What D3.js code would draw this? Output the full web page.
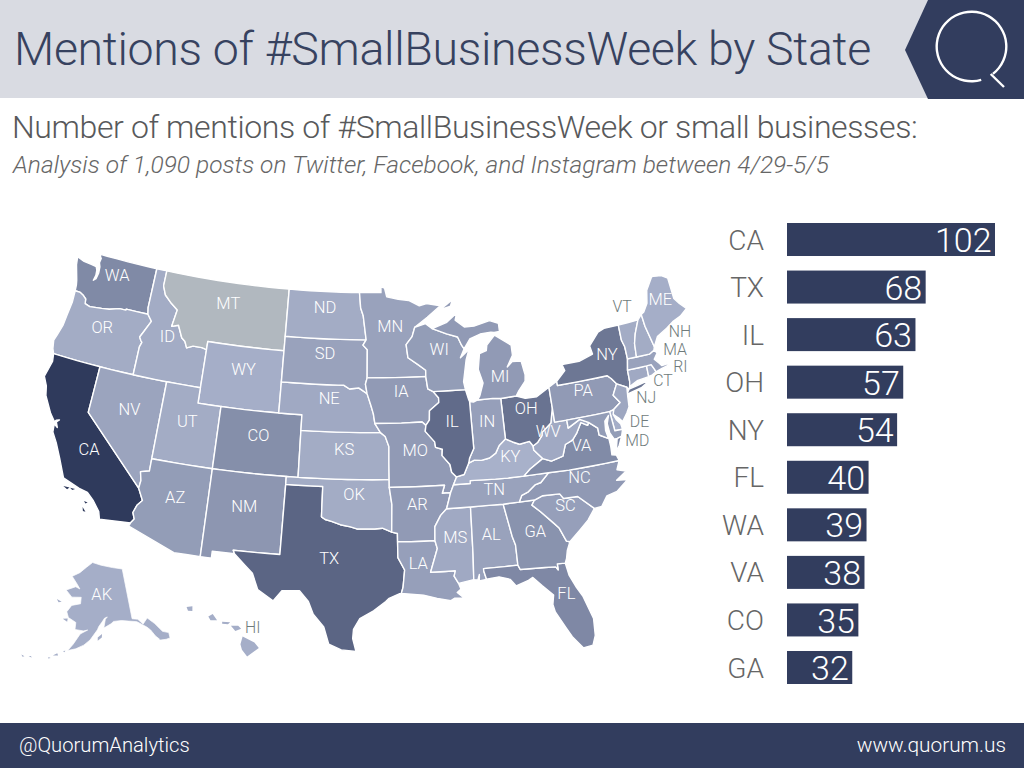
<!DOCTYPE html>
<html>
<head>
<meta charset="utf-8">
<script src="https://cdn.jsdelivr.net/npm/d3@7"></script>
<style>
  html, body { margin: 0; padding: 0; background: #fff; }
  svg { display: block; }
  text { font-family: Roboto, "Liberation Sans", sans-serif; font-weight: 300; }
</style>
</head>
<body>
<svg id="chart" width="1024" height="768"></svg>
<script>
// bar chart data
const barStates = ["CA", "TX", "IL", "OH", "NY", "FL", "WA", "VA", "CO", "GA"];
const barValues = [102, 68, 63, 57, 54, 40, 39, 38, 35, 32];

// map shade per state, values outside the top ten are estimated from the colours
const mentions = {
  CA: 102, TX: 68, IL: 63, OH: 57, NY: 54, FL: 40, WA: 39, VA: 38, CO: 35, GA: 32,
  AK: 10, AL: 20, AR: 26, AZ: 24, CT: 14, DE: 10, HI: 10, IA: 26, ID: 12, IN: 22,
  KS: 12, KY: 8, LA: 22, MA: 20, MD: 24, ME: 10, MI: 26, MN: 20, MO: 26, MS: 14,
  NC: 27, ND: 12, NE: 14, NH: 12, NJ: 16, NM: 29, NV: 18, OK: 12, OR: 12, PA: 26,
  RI: 10, SC: 22, SD: 20, TN: 20, UT: 12, VT: 12, WI: 24, WV: 14, WY: 10
};
const noDataStates = ["MT"];

// state labels: lon, lat
const labelSpots = {
  WA: [-120.6, 47.97], OR: [-120.7, 44.48], CA: [-119.2, 36.73], NV: [-116.7, 39.83], ID: [-114.76, 44.87],
  MT: [-109.7, 47.63], WY: [-107.5, 43.55], UT: [-111.7, 39.78], AZ: [-111.65, 34.83], CO: [-105.6, 39.49],
  NM: [-106.15, 34.86], ND: [-100.5, 47.97], SD: [-100.3, 45.01], NE: [-99.76, 42.13], KS: [-98.34, 38.95],
  OK: [-97.45, 36.06], TX: [-99.28, 31.97], MN: [-94.3, 46.81], IA: [-93.45, 42.61], MO: [-92.4, 38.85],
  AR: [-92.4, 35.37], LA: [-92.5, 31.64], WI: [-89.87, 45.2], IL: [-89.16, 40.58], IN: [-86.18, 40.39],
  MI: [-84.63, 43.1], OH: [-82.74, 40.85], KY: [-84.58, 37.98], TN: [-86.18, 35.98], MS: [-89.56, 33.18],
  AL: [-86.77, 33.18], GA: [-83.35, 33.05], FL: [-81.71, 28.78], SC: [-80.74, 34.36], NC: [-79.26, 35.99],
  VA: [-78.65, 37.99], WV: [-81.17, 39.24], PA: [-77.63, 41.44], NY: [-74.94, 43.34], ME: [-69.0, 45.91],
  VT: [-72.6, 46.12], NH: [-68.13, 43.57], MA: [-69.0, 42.55], RI: [-68.98, 41.41], CT: [-70.75, 40.84],
  NJ: [-72.5, 40.06], DE: [-73.53, 38.68], MD: [-74.07, 37.55], AK: [-152.1, 65.5], HI: [-155.2, 20.87]
};
const outsideLabels = ["VT", "NH", "MA", "RI", "CT", "NJ", "DE", "MD", "HI"];

// borders, "west-longitude latitude" pairs, shared by the two states either side
const borders = {
  wa_north: "117.04 49,118 49,119 49,120 49,121 49,122 49,122.76 49",
  wa_coast: "122.76 49,122.5 48.75,122.55 48.45,122.4 48.2,122.35 47.8,122.45 47.4,122.65 47.25,122.55 47.6,122.6 47.95,122.75 48.15,123.2 48.2,124 48.25,124.72 48.42,124.6 47.9,124.15 46.95,124.05 46.65,124 46.27",
  wa_or: "124 46.27,123.5 46.26,123.2 46.15,122.85 45.95,122.78 45.65,122.3 45.55,121.2 45.65,120.5 45.72,119.6 45.92,119 45.93,118.98 46,118 46,117 46,116.92 46",
  wa_id: "116.92 46,117.04 46.42,117.04 47,117.04 48,117.04 49",
  or_coast: "124 46.27,123.95 45.5,124.07 44.6,124.15 43.9,124.4 43.2,124.55 42.84,124.4 42.3,124.21 42",
  or_ca: "124.21 42,123 42,122 42,121 42,120 42",
  or_nv: "120 42,119 42,118 42,117.03 42",
  or_id: "116.92 46,116.47 45.6,116.85 45,117.2 44.45,117.03 44.25,116.9 44.15,117.03 43.83,117.03 43,117.03 42",
  id_nv: "117.03 42,116 42,115 42,114.04 42",
  id_ut: "114.04 42,113 42,112 42,111.05 42",
  id_wy: "111.05 42,111.05 43,111.05 44.47",
  id_mt: "111.05 44.47,111.5 44.55,112.3 44.55,112.85 44.37,113.1 44.75,113.45 44.95,113.95 45.7,114.55 45.55,114.33 46.65,115 47,115.7 47.45,116.05 48,116.05 49",
  id_north: "116.05 49,117.04 49",
  mt_north: "104.05 49,105 49,106 49,107 49,108 49,109 49,110 49,111 49,112 49,113 49,114 49,115 49,116.05 49",
  mt_wy: "111.05 44.47,111.05 45,110 45,109 45,108 45,107 45,106 45,105 45,104.05 45",
  mt_nd: "104.05 49,104.05 47,104.05 45.94",
  mt_sd: "104.05 45.94,104.05 45",
  wy_sd: "104.05 45,104.05 43",
  wy_ne: "104.05 43,104.05 41",
  wy_co: "104.05 41,105 41,106 41,107 41,108 41,109.05 41",
  wy_ut: "109.05 41,110 41,111.05 41,111.05 42",
  ca_coast: "124.21 42,124.1 41.5,124.4 40.45,124 39.9,123.8 39.3,123 38.3,122.5 37.85,122.4 37.98,122.15 38.05,122.35 37.87,122.15 37.55,122.47 37.72,122.4 37.2,121.9 36.6,121.3 35.7,120.6 34.55,119.2 34.15,118.5 34.03,117.9 33.6,117.3 33,117.12 32.53",
  ca_mex: "117.12 32.53,116 32.62,114.72 32.72",
  ca_az: "114.72 32.72,114.5 33,114.7 33.4,114.5 33.9,114.15 34.27,114.63 35",
  ca_nv: "114.63 35,120 39,120 40,120 41,120 42",
  nv_az: "114.63 35,114.57 35.5,114.74 36.05,114.05 36.2,114.05 37",
  nv_ut: "114.05 37,114.05 39,114.04 42",
  ut_az: "114.05 37,113 37,112 37,111 37,110 37,109.05 37",
  ut_co: "109.05 37,109.05 41",
  az_mex: "114.72 32.72,114.81 32.5,111.07 31.33,110 31.33,109.05 31.33",
  az_nm: "109.05 31.33,109.05 33,109.05 35,109.05 37",
  co_nm: "109.05 37,108 37,107 37,106 37,105 37,104 37,103 37",
  co_ok: "103 37,102.04 37",
  co_ks: "102.04 37,102.05 40",
  co_ne: "102.05 40,102.05 41,103 41,104.05 41",
  nm_ok: "103 37,103 36.5",
  nm_tx: "103 36.5,103.05 32,104 32,105 32,106.62 32,106.5 31.78",
  nm_mex: "106.5 31.78,108.2 31.78,108.2 31.33,109.05 31.33",
  tx_mex: "106.5 31.78,105.6 31.1,105 30.65,104.5 29.65,103.3 29,102.7 29.7,101.4 29.77,100.7 29.1,100.3 28.3,99.5 27.5,99.1 26.4,98.2 26.05,97.15 25.96",
  tx_coast: "97.15 25.96,97.4 26.8,97.35 27.4,96.9 28.1,95.9 28.6,95 29.2,94.75 29.4,94 29.68,93.84 29.7",
  tx_la: "93.84 29.7,93.7 30.1,93.55 31.2,94.04 32,94.04 33.02",
  tx_ar: "94.04 33.02,94.04 33.55,94.48 33.64",
  tx_ok: "94.48 33.64,95.2 33.9,95.8 33.85,96.6 33.85,97.2 33.85,97.7 33.98,98.5 34.1,99.2 34.3,99.7 34.4,100 34.56,100 36.5,101 36.5,102 36.5,103 36.5",
  nd_north: "97.23 49,98 49,99 49,100 49,101 49,102 49,103 49,104.05 49",
  nd_mn: "97.23 49,97.1 48,96.85 47.5,96.56 45.94",
  nd_sd: "104.05 45.94,103 45.94,102 45.94,101 45.94,100 45.94,99 45.94,98 45.94,96.56 45.94",
  mn_sd: "96.56 45.94,96.85 45.6,96.45 45.3,96.45 43.5",
  sd_ne: "104.05 43,103 43,102 43,101 43,100 43,99 43,98.5 43,98 42.77,97.2 42.85,96.45 42.49",
  sd_ia: "96.45 42.49,96.6 43.1,96.45 43.5",
  mn_ia: "96.45 43.5,95 43.5,94 43.5,93 43.5,92 43.5,91.22 43.5",
  ne_ks: "102.05 40,101 40,100 40,99 40,98 40,97 40,96 40,95.3 40",
  ne_ia: "96.45 42.49,96.1 41.7,95.9 41.2,95.77 40.58",
  ne_mo: "95.77 40.58,95.3 40",
  ia_mo: "95.77 40.58,94.5 40.58,93.5 40.58,92.5 40.6,91.73 40.61,91.42 40.38",
  ks_ok: "102.04 37,101 37,100 37,99 37,98 37,97 37,96 37,95 37,94.62 37",
  ks_mo: "95.3 40,94.9 39.75,94.6 39.1,94.62 38,94.62 37",
  ok_mo: "94.62 37,94.62 36.5",
  ok_ar: "94.62 36.5,94.43 35.4,94.48 33.64",
  mo_ar: "94.62 36.5,93 36.5,92 36.5,90.15 36.5,90.37 36,89.7 36",
  mn_wi: "92.02 46.7,92.3 46.1,92.88 45.6,92.75 44.75,91.9 44.3,91.2 43.9,91.22 43.5",
  ia_wi: "91.22 43.5,91.1 42.7,90.64 42.51",
  ia_il: "90.64 42.51,90.2 42.1,90.2 41.8,91.05 41.3,91.1 40.7,91.42 40.38",
  mo_il: "91.42 40.38,91.5 40,90.75 39.3,90.7 38.95,90.15 38.8,90.2 38.4,89.6 37.8,89.5 37.3,89.13 36.98",
  mo_ky: "89.13 36.98,89.42 36.5",
  mo_tn: "89.42 36.5,89.7 36",
  ar_tn: "89.7 36,90.1 35",
  ar_ms: "90.1 35,90.6 34.6,91.1 33.9,91.15 33",
  ar_la: "91.15 33,92 33,93 33,94.04 33.02",
  la_ms: "91.15 33,91 32.5,91.6 31,90.5 31,89.73 31,89.85 30.67,89.55 30.18",
  la_coast: "89.55 30.18,89.4 29.8,89.7 29.6,89.2 29.2,89.9 29.25,90.2 29.1,91.2 29.3,92.2 29.55,93.84 29.7",
  ms_coast: "89.55 30.18,88.4 30.35",
  ms_al: "88.4 30.35,88.3 32,88.2 35",
  ms_tn: "90.1 35,89 35,88.2 35",
  al_tn: "88.2 35,87 35,85.6 34.98",
  al_ga: "85.6 34.98,85.18 32.87,85 32.3,85 31",
  al_fl: "85 31,86 31,87.6 31,87.6 30.85,87.45 30.3",
  al_coast: "87.45 30.3,88 30.23,87.95 30.65,88.1 30.3,88.4 30.35",
  fl_ga: "85 31,84.86 30.7,83 30.63,82.2 30.57,82.05 30.36,82.05 30.75,81.45 30.72",
  fl_coast: "81.45 30.72,81.3 29.9,80.9 29.05,80.55 28.45,80.05 26.9,80.13 25.8,80.4 25.2,81.1 25.13,81.75 25.95,82.1 26.6,82.7 27.7,82.8 28.2,82.65 28.8,83.4 29.5,84 30.1,84.35 29.95,85.3 29.68,85.7 30.15,86.5 30.38,87.45 30.3",
  ga_sc: "83.1 35,83.35 34.7,82.75 34.2,81.9 33.4,81.5 33,81.1 32.1,80.85 32.03",
  ga_nc: "84.32 34.99,83.1 35",
  ga_tn: "85.6 34.98,84.32 34.99",
  ga_coast: "80.85 32.03,81.15 31.5,81.3 31,81.45 30.72",
  sc_nc: "83.1 35,82.4 35.2,81.05 35.15,80.8 34.82,79.67 34.8,78.55 33.86",
  sc_coast: "78.55 33.86,79.2 33.2,79.9 32.7,80.85 32.03",
  nc_coast: "78.55 33.86,77.95 33.9,77.4 34.5,76.55 34.65,75.53 35.25,76.4 35.35,75.5 35.8,76.2 36,75.87 36.55",
  nc_tn: "84.32 34.99,84.05 35.4,83.5 35.57,82.9 35.95,82.4 36.05,81.68 36.59",
  nc_va: "81.68 36.59,80 36.55,79 36.55,78 36.55,77 36.55,75.87 36.55",
  tn_va: "83.68 36.6,82.5 36.6,81.68 36.59",
  tn_ky: "89.42 36.5,88.07 36.5,88.05 36.68,87 36.65,86 36.62,85 36.6,83.68 36.6",
  ky_va: "83.68 36.6,83.1 37,81.97 37.54",
  ky_wv: "81.97 37.54,82.6 38.17,82.6 38.42",
  ky_oh: "82.6 38.42,82.85 38.75,83.7 38.65,84.25 38.85,84.82 39.1",
  ky_in: "84.82 39.1,85.4 38.73,85.75 38.27,86.3 38,87 37.9,87.6 37.95,88.05 37.8",
  ky_il: "88.05 37.8,88.5 37.1,89.13 36.98",
  il_in: "88.05 37.8,87.95 38.1,87.53 38.7,87.53 39.35,87.53 41.71",
  il_wi: "90.64 42.51,89 42.5,87.8 42.49",
  il_coast: "87.8 42.49,87.6 41.85,87.53 41.71",
  in_coast: "87.53 41.71,87.2 41.65,86.82 41.76",
  in_mi: "86.82 41.76,85.5 41.76,84.81 41.7",
  in_oh: "84.81 41.7,84.82 39.1",
  mi_oh: "84.81 41.7,83.45 41.73",
  oh_coast: "83.45 41.73,82.7 41.5,81.7 41.5,80.52 41.98",
  oh_pa: "80.52 41.98,80.52 40.64",
  oh_wv: "80.52 40.64,80.85 39.7,81.7 39.2,81.75 39,82.2 38.6,82.6 38.42",
  pa_wv: "80.52 40.64,80.52 39.72,79.48 39.72",
  pa_md: "79.48 39.72,78 39.72,77 39.72,75.79 39.72",
  pa_de: "75.79 39.72,75.42 39.8",
  pa_nj: "75.42 39.8,74.75 40.15,75.2 40.7,74.7 41.36",
  pa_ny: "74.7 41.36,75.05 41.77,75.35 42,76.5 42,78 42,79.76 42,79.76 42.27",
  pa_shore: "79.76 42.27,80.52 41.98",
  wv_md: "79.48 39.72,79.48 39.2,78.4 39.62,77.72 39.32",
  va_wv: "81.97 37.54,81.3 37.3,80.3 37.5,79.95 38.2,79.3 38.4,78.87 38.77,78.35 39.4,77.83 39.15,77.72 39.32",
  va_coast: "75.87 36.55,76 36.92,76.35 37,76.3 37.55,76.32 38.05",
  md_va: "76.32 38.05,77.05 38.4,77.05 38.85,77.72 39.32",
  md_bay: "75.05 38.45,75.25 38.03,75.65 37.95,75.9 37.95,76.15 38.4,76.2 39,75.95 39.5,76.35 39.2,76.45 38.6,76.35 38.1,76.32 38.05",
  de_md: "75.79 39.72,75.7 38.46",
  de_south: "75.7 38.46,75.05 38.45",
  de_coast: "75.05 38.45,75.1 38.8,75.4 39.15,75.55 39.5",
  de_nj: "75.42 39.8,75.55 39.5",
  nj_coast: "73.9 41,74 40.45,74.1 39.75,74.4 39.4,74.9 38.93,75.15 39.2,75.55 39.5",
  ny_nj: "74.7 41.36,73.9 41",
  ny_city: "73.9 41,73.8 40.8,73.65 41",
  ny_north: "73.35 45,74.7 45",
  ny_shore: "74.7 45,75.3 44.85,76.3 44.1,76.2 43.55,77.5 43.27,79.05 43.27,78.9 42.85,79.76 42.27",
  vt_ny: "73.35 45,73.4 44,73.25 43.55,73.27 42.75",
  ma_ny: "73.27 42.75,73.5 42.05",
  ct_ny: "73.5 42.05,73.55 41.3,73.65 41",
  ct_ma: "73.5 42.05,72.5 42.03,71.8 42.02",
  ct_ri: "71.8 42.02,71.85 41.32",
  ct_coast: "71.85 41.32,72.9 41.25,73.65 41",
  ma_ri: "71.8 42.02,71.38 42.02,71.2 41.67,71.13 41.5",
  ri_coast: "71.13 41.5,71.5 41.37,71.85 41.32",
  ma_vt: "73.27 42.75,72.46 42.73",
  ma_nh: "72.46 42.73,71.3 42.7,70.82 42.87",
  ma_coast: "70.82 42.87,70.6 42.65,71 42.3,70.65 41.95,70.5 41.78,70 41.8,70.05 42.05,69.95 41.7,70.6 41.6,71.13 41.5",
  vt_nh: "72.46 42.73,72.33 43.6,72.05 44.2,71.5 45.01",
  vt_north: "71.5 45.01,72.5 45,73.35 45",
  nh_coast: "70.82 42.87,70.7 43.07",
  nh_me: "70.7 43.07,71.03 44.5,71.08 45.3",
  nh_north: "71.08 45.3,71.5 45.01",
  me_coast: "70.7 43.07,70.2 43.65,69.2 44,68.5 44.3,67.7 44.5,66.97 44.85",
  me_north: "66.97 44.85,67.45 45.3,67.8 45.7,67.79 47.07,68.3 47.35,69.05 47.45,69.22 47.45,70 46.7,70.3 45.9,70.8 45.4,71.08 45.3",
  mn_north: "89.5 48,90.8 48.2,91.5 48.07,92.5 48.45,93.5 48.55,94.6 48.72,94.8 49.3,95.15 49.38,95.15 49,96 49,97.23 49",
  mn_coast: "92.02 46.7,90.8 47.3,89.5 48",
  wi_sup: "92.02 46.7,91 46.9,90.4 46.55",
  wi_mi: "90.4 46.55,89.1 46.15,88.1 45.9,87.8 45.35,87.6 45.1",
  wi_lake: "87.6 45.1,88 44.55,87.4 44.9,87.05 45.25,87.5 44.4,87.9 43,87.8 42.49",
  mi_lp_shore: "83.45 41.73,83.15 42.05,82.5 42.6,82.42 43,82.6 43.9,83.4 43.95,83.9 43.65,83.3 44.35,83.3 45,84.7 45.78,85.5 45.2,85.6 44.85,86.25 44.7,86.5 43.7,86.2 42.8,86.6 42,86.82 41.76",
  mi_up_shore: "87.6 45.1,87 45.7,86 45.95,85 46,84.7 45.95,84.2 45.97,84.2 46.5,85 46.75,86.5 46.5,87.4 46.5,88.2 47,88 47.45,89 46.9,90.4 46.55"
};

// extra land that is not bounded by a neighbour
const islands = {
  NY: "74 40.6,73.8 40.6,72.7 40.75,71.9 41.05,72.4 41.03,73 40.95,73.75 40.85",
  VA: "75.25 38.03,75.65 37.95,75.95 37.15,75.6 37.5",
  AK: "141 69.65,141 60.3,139 60,137.5 58.9,135.5 59.8,133.5 58.4,131.8 56.6,130 56,130.2 55,131.5 55,133.3 55.2,134.5 56.2,135.5 57.5,136.5 58.2,139.5 59.6,142.5 60,145 60.3,148 60.3,149 59.9,151.7 59.2,151 60.8,150.2 61.2,151.3 61,152.3 60.3,153.5 59.5,154 58.9,156.5 57,158.5 56,161 55.2,163.5 54.7,162 56,160 58,157.5 58.8,159 58.6,162 58.7,162 60,165 60.7,166 61.7,164.5 63,161 63.5,161 64.7,165 64.5,168 65.6,164 66.5,162 66.2,163.5 67,166.5 68.3,163 69.2,160 70.3,156.7 71.3,152 70.8,146 70.2"
};
// tiny islands, drawn without the white outline or they would vanish
const specks = {
  AK: ["153.9 57.5,152.4 58.1,152.5 57.5,153.9 56.9", "134.8 58,133.9 57,134.8 57", "133.6 56.3,132.5 56,132.5 55.3,133.6 55.3",
       "167 60.3,165.2 60.5,165.2 59.9", "171 63.6,168.8 63.3,170 63.1", "164.9 54.5,164.2 54.6,164.5 54.3", "166.6 53.9,166.2 53.5,167.8 53.3",
       "169 52.9,168.3 52.8,169 52.6", "174.2 52.2,173.8 52,174.8 52", "177 51.9,176 51.8,176.5 51.6"],
  HI: ["155.9 20.25,155.1 19.85,154.8 19.5,155.6 18.95,155.95 19.4,156.05 19.75", "156.7 20.95,156.2 20.95,156 20.75,156.4 20.6",
       "157.3 21.2,156.75 21.17,156.9 21.05,157.3 21.08", "158.25 21.55,157.95 21.7,157.65 21.3,158.1 21.3", "159.75 22.15,159.35 22.2,159.35 21.9,159.65 21.9"],
  CA: ["120.45 34.05,119.95 34.05,120.1 33.9", "119.9 34.05,119.5 34.05,119.7 33.95", "118.6 33.45,118.3 33.4,118.45 33.3", "118.6 33.05,118.3 32.8,118.5 32.8"],
  MI: ["89.2 47.85,88.45 48.2,88.6 47.95"]
};

const stateRings = {
  WA: "wa_north wa_coast wa_or wa_id",
  OR: "or_coast or_ca or_nv -or_id -wa_or",
  CA: "ca_coast ca_mex ca_az ca_nv -or_ca",
  NV: "or_nv id_nv -nv_ut -nv_az ca_nv",
  ID: "id_north -wa_id or_id id_nv id_ut id_wy id_mt",
  MT: "-id_mt mt_wy -mt_sd -mt_nd mt_north",
  WY: "-id_wy -wy_ut -wy_co -wy_ne -wy_sd -mt_wy",
  UT: "-id_ut -nv_ut ut_az ut_co wy_ut",
  AZ: "-ut_az -nv_az -ca_az az_mex az_nm",
  CO: "-ut_co co_nm co_ok co_ks co_ne wy_co",
  NM: "-az_nm -nm_mex -nm_tx -nm_ok -co_nm",
  TX: "nm_tx tx_mex tx_coast tx_la tx_ar tx_ok",
  OK: "nm_ok -tx_ok -ok_ar -ok_mo -ks_ok -co_ok",
  KS: "ks_ok -ks_mo -ne_ks -co_ks",
  NE: "-co_ne ne_ks -ne_mo -ne_ia -sd_ne wy_ne",
  SD: "mt_sd wy_sd sd_ne sd_ia -mn_sd -nd_sd",
  ND: "mt_nd nd_sd -nd_mn nd_north",
  MN: "nd_mn mn_sd mn_ia -mn_wi mn_coast mn_north",
  IA: "-sd_ia ne_ia ia_mo -ia_il -ia_wi -mn_ia",
  MO: "ne_mo ks_mo ok_mo mo_ar -mo_tn -mo_ky -mo_il -ia_mo",
  AR: "-mo_ar ok_ar -tx_ar -ar_la -ar_ms -ar_tn",
  LA: "ar_la -tx_la -la_coast -la_ms",
  MS: "ar_ms la_ms ms_coast ms_al -ms_tn",
  AL: "-ms_al -al_coast -al_fl -al_ga -al_tn",
  FL: "al_fl -fl_coast -fl_ga",
  GA: "al_ga fl_ga -ga_coast -ga_sc -ga_nc -ga_tn",
  SC: "ga_sc -sc_coast -sc_nc",
  NC: "ga_nc sc_nc nc_coast -nc_va -nc_tn",
  TN: "ms_tn al_tn ga_tn nc_tn -tn_va -tn_ky mo_tn ar_tn",
  KY: "tn_ky ky_va ky_wv ky_oh ky_in ky_il mo_ky",
  VA: "tn_va nc_va va_coast md_va -va_wv -ky_va",
  WV: "pa_wv wv_md -va_wv ky_wv -oh_wv",
  OH: "oh_coast oh_pa oh_wv ky_oh -in_oh mi_oh",
  IN: "in_coast in_mi in_oh ky_in il_in",
  IL: "il_wi il_coast -il_in ky_il -mo_il -ia_il",
  WI: "ia_wi il_wi -wi_lake -wi_mi -wi_sup mn_wi",
  MI: "mi_lp_shore in_mi mi_oh|wi_mi mi_up_shore",
  PA: "oh_pa pa_wv pa_md pa_de pa_nj pa_ny pa_shore",
  NY: "-pa_ny ny_nj ny_city -ct_ny -ma_ny -vt_ny ny_north ny_shore",
  NJ: "-pa_nj de_nj -nj_coast -ny_nj",
  DE: "pa_de de_nj -de_coast -de_south -de_md",
  MD: "pa_md de_md de_south md_bay md_va -wv_md",
  CT: "ct_ny -ct_coast -ct_ri -ct_ma",
  RI: "ct_ri -ri_coast -ma_ri",
  MA: "ma_ny ct_ma ma_ri -ma_coast -ma_nh -ma_vt",
  VT: "vt_ny ma_vt vt_nh vt_north",
  NH: "-vt_nh ma_nh nh_coast nh_me nh_north",
  ME: "-nh_me me_coast me_north",
  AK: "",
  HI: ""
};

const parsePairs = s => s.split(",").map(p => { const [lon, lat] = p.trim().split(" ").map(Number); return [-lon, lat]; });

function closeRing(pts) {
  const ring = pts.concat([pts[0]]);
  // d3 reads rings on the sphere, a ring bigger than half the globe is the wrong way round
  return d3.geoArea({type: "Polygon", coordinates: [ring]}) > 2 * Math.PI ? ring.reverse() : ring;
}

function stateShape(code) {
  const rings = stateRings[code] ? stateRings[code].split("|").map(spec =>
    spec.split(" ").flatMap(name =>
      name[0] === "-" ? parsePairs(borders[name.slice(1)]).reverse() : parsePairs(borders[name]))) : [];
  if (islands[code]) rings.push(parsePairs(islands[code]));
  return {type: "MultiPolygon", coordinates: rings.map(r => [closeRing(r)])};
}

const speckShape = code => ({type: "MultiPolygon", coordinates: specks[code].map(s => [closeRing(parsePairs(s))])});

const svg = d3.select("#chart");
const navy = "#323d5e";

// header
svg.append("rect").attr("width", 1024).attr("height", 98).attr("fill", "#d9dbe2");
svg.append("polygon").attr("points", "905,50 928,0 1024,0 1024,99 928,99").attr("fill", navy);
svg.append("path")
    .attr("transform", "translate(971.5,46.5)")
    .attr("d", d3.arc()({innerRadius: 33.6, outerRadius: 36, startAngle: 163.8 * Math.PI / 180, endAngle: 502 * Math.PI / 180}))
    .attr("fill", "#fff");
svg.append("line").attr("x1", 990.7).attr("y1", 74).attr("x2", 1004).attr("y2", 87)
    .attr("stroke", "#fff").attr("stroke-width", 2.4);

svg.append("text").attr("x", 14).attr("y", 65).attr("fill", "#37425f")
    .style("font-size", "46.5px").style("letter-spacing", "-0.33px").text("Mentions of #SmallBusinessWeek by State");
svg.append("text").attr("x", 12).attr("y", 138).attr("fill", "#58595b")
    .style("font-size", "32px").style("letter-spacing", "-0.38px").text("Number of mentions of #SmallBusinessWeek or small businesses:");
svg.append("text").attr("x", 13).attr("y", 173).attr("fill", "#666")
    .style("font-size", "24.5px").style("font-style", "italic")
    .text("Analysis of 1,090 posts on Twitter, Facebook, and Instagram between 4/29-5/5");

// map
const projection = d3.geoAlbersUsa().scale(890).translate([365, 453]);
const geoPath = d3.geoPath(projection);
const shade = d3.scaleLinear().domain([8, 102]).range(["#a8b1ca", "#2f3a5c"]);
const stateCodes = Object.keys(stateRings);
const stateFill = d => noDataStates.includes(d) ? "#b1b8bf" : shade(mentions[d]);

svg.append("g").selectAll("path")
  .data(Object.keys(specks))
  .join("path")
    .attr("d", d => geoPath(speckShape(d)))
    .attr("fill", stateFill);

svg.append("g").selectAll("path")
  .data(stateCodes.filter(d => stateRings[d] || islands[d]))
  .join("path")
    .attr("d", d => geoPath(stateShape(d)))
    .attr("fill", stateFill)
    .attr("stroke", "#fff")
    .attr("stroke-width", d => d === "AK" ? 0.7 : 1.4)
    .attr("stroke-linejoin", "round");

svg.append("g").selectAll("text")
  .data(stateCodes)
  .join("text")
    .attr("x", d => projection(labelSpots[d])[0])
    .attr("y", d => projection(labelSpots[d])[1])
    .attr("dy", "0.36em")
    .attr("text-anchor", "middle")
    .attr("fill", d => outsideLabels.includes(d) ? "#6f7b7b" : "#fff")
    .style("font-size", d => outsideLabels.includes(d) ? "15.8px" : "16.5px")
    .text(d => d);

// bars
const x = d3.scaleLinear().domain([0, 102]).range([787, 995]);
const y = d3.scaleBand().domain(barStates).range([223, 684]).paddingInner(0.306);

const rows = svg.append("g").selectAll("g")
  .data(barStates)
  .join("g")
    .attr("transform", d => `translate(0,${y(d)})`);

rows.append("rect")
    .attr("x", x(0))
    .attr("width", (d, i) => x(barValues[i]) - x(0))
    .attr("height", y.bandwidth())
    .attr("fill", navy);

rows.append("text")
    .attr("x", 764)
    .attr("y", y.bandwidth() / 2)
    .attr("dy", "0.36em")
    .attr("text-anchor", "end")
    .attr("fill", "#666")
    .style("font-size", "28px")
    .text(d => d);

rows.append("text")
    .attr("x", (d, i) => x(barValues[i]) - 3.5)
    .attr("y", y.bandwidth() / 2)
    .attr("dy", "0.37em")
    .attr("text-anchor", "end")
    .attr("fill", "#fff")
    .style("font-size", "34px")
    .text((d, i) => barValues[i]);

// footer
svg.append("rect").attr("y", 723).attr("width", 1024).attr("height", 45).attr("fill", navy);
svg.append("text").attr("x", 19).attr("y", 752).attr("fill", "#fff")
    .style("font-size", "20.2px").text("@QuorumAnalytics");
svg.append("text").attr("x", 1006).attr("y", 752).attr("text-anchor", "end").attr("fill", "#fff")
    .style("font-size", "20.8px").text("www.quorum.us");
</script>
</body>
</html>
